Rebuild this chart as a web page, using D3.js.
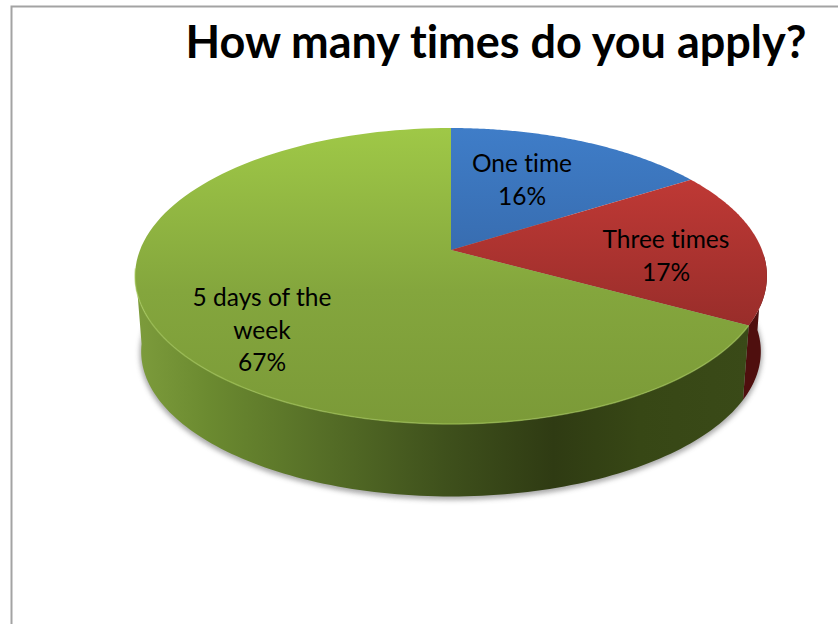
<!DOCTYPE html>
<html><head><meta charset="utf-8">
<script src="https://cdn.jsdelivr.net/npm/d3@7"></script>
<style>html,body{margin:0;background:#fff}svg{display:block}text{font-family:Lato,sans-serif;fill:#000;font-variant-ligatures:none}</style>
</head><body><svg id="c" width="838" height="624"></svg>
<script>
const categories = ["One time","Three times","5 days of the week"];
const values = [16,17,67];
const labelLines = [["One time"],["Three times"],["5 days of the","week"]];
const topStops = [["#3f7dc8","#32619f"],["#cc3d39","#952c29"],["#9fc847","#84a63d","#7b9a38"]];
const title = "How many times do you apply?";

const svg = d3.select("#c");
const defs = svg.append("defs");
const K=-0.1757, CX=451;
const projTop = t=>{const u=Math.sin(t),v=-Math.cos(t),d=1+K*v;return [CX+311*u/d,250+143.4*v/d];};
const projBot = t=>{const u=Math.sin(t),v=-Math.cos(t),d=1+K*v;return [CX+305*u/d,326+140.5*v/d];};
const arcs = d3.pie().sort(null).value(d=>d)(values);
const line = d3.line();
const samp=(a,b,f)=>d3.range(0,121).map(i=>f(a+(b-a)*i/120));

// gradients
topStops.forEach((s,i)=>{
  const g=defs.append("linearGradient").attr("id","t"+i).attr("gradientUnits","userSpaceOnUse")
    .attr("x1",0).attr("x2",0).attr("y1",128).attr("y2",i==2?424:340);
  s.forEach((c,j)=>g.append("stop").attr("offset",i==2?[0,0.55,1][j]:j).attr("stop-color",c));
});
const wall=defs.append("linearGradient").attr("id","wg").attr("gradientUnits","userSpaceOnUse")
  .attr("x1",135).attr("x2",750).attr("y1",0).attr("y2",0);
[[0,"#7d9c3c"],[0.12,"#6b8a30"],[0.3,"#566f27"],[0.5,"#3f511c"],[0.68,"#2f3b13"],[0.82,"#374715"],[1,"#3a4a18"]]
  .forEach(s=>wall.append("stop").attr("offset",s[0]).attr("stop-color",s[1]));
const blur=defs.append("filter").attr("id","bl").attr("x","-10%").attr("y","-10%").attr("width","120%").attr("height","120%");
blur.append("feGaussianBlur").attr("stdDeviation",2.5);

// frame
svg.append("path").attr("d","M11.5,624V6.5H838").attr("fill","none").attr("stroke","#a3a3a3").attr("stroke-width",2);

// shadow
const full=samp(0,2*Math.PI,projBot);
svg.append("path").attr("d",line(full.map(p=>[p[0],p[1]+2]))+"Z").attr("fill","#555").attr("stroke","#555").attr("stroke-width",3).attr("opacity",.5).attr("filter","url(#bl)");

// walls (visible sides only)
const a2=arcs[2], a1=arcs[1];
const wallPath=(a,b)=>line(samp(a,b,projTop).concat(samp(a,b,projBot).reverse()))+"Z";
const wallBack=Math.PI*1.46;
svg.append("path").attr("d",wallPath(1.6,a1.endAngle)).attr("fill","#4f0f0e");
svg.append("path").attr("d",wallPath(a2.startAngle,wallBack)).attr("fill","url(#wg)");

// top faces
arcs.forEach((a,i)=>{
  const pts=[[CX,250]].concat(samp(a.startAngle,a.endAngle,projTop));
  svg.append("path").attr("d",line(pts)+"Z").attr("fill",`url(#t${i})`);
});
// rim highlight
svg.append("path").attr("d",line(samp(a2.startAngle,wallBack,projTop))).attr("fill","none").attr("stroke","#a5c85a").attr("stroke-width",1.5).attr("opacity",.6);

// labels
const labelPos=[522,666,262], labelY=[172,248,306];
const lh=32.5;
arcs.forEach((a,i)=>{
  const lines=labelLines[i].concat([values[i]+"%"]);
  lines.forEach((l,j)=>svg.append("text").attr("x",labelPos[i]).attr("y",labelY[i]+j*lh)
    .attr("text-anchor","middle").attr("font-size",24.5).text(l));
});
svg.append("text").attr("x",496).attr("y",58).attr("text-anchor","middle").attr("font-size",45).attr("font-weight",700).text(title);
</script></body></html>
